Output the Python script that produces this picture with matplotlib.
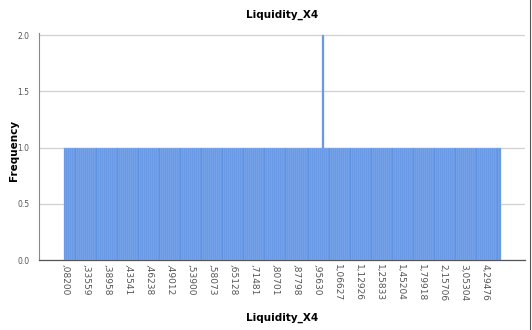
import matplotlib
matplotlib.use("Agg")
import matplotlib.pyplot as plt
from matplotlib.lines import Line2D

# Tick labels shown (every 10th category)
tick_labels = [",08200", ",33559", ",38958", ",43541", ",46238", ",49012", ",53900",
               ",58073", ",65128", ",71481", ",80701", ",87798", ",95630", "1,06627",
               "1,12926", "1,25833", "1,45204", "1,79918", "2,15706", "3,05304", "4,29476"]
tick_step = 10
# Frequency of each distinct value (208 categories, one value occurs twice)
frequency = [1] * 123 + [2] + [1] * 84

fig = plt.figure(figsize=(5.32, 3.30), dpi=100)
ax = fig.add_axes([0.0733, 0.2121, 0.9135, 0.6886])

x = list(range(len(frequency)))
ax.bar(x, frequency, width=1.0, color="#5d91e2", edgecolor="#9dbff2", linewidth=0.3, zorder=2)

ax.set_xlim(-12.4, 219.1)
ax.set_ylim(0, 2.02)
ax.set_yticks([0.0, 0.5, 1.0, 1.5, 2.0])
ax.set_yticklabels(["0.0", "0.5", "1.0", "1.5", "2.0"])
ax.yaxis.grid(True, color="#d0d0d0", linewidth=0.9, zorder=0)
ax.set_axisbelow(True)

ax.set_xticks([i * tick_step for i in range(len(tick_labels))])
ax.set_xticklabels(tick_labels, rotation=-90, fontsize=6.5, color="#555555")
ax.tick_params(axis="y", labelsize=5.5, colors="#555555", length=0, pad=7)
ax.tick_params(axis="x", length=0, pad=3)

for s in ["top", "right"]:
    ax.spines[s].set_visible(False)
ax.spines["left"].set_color("#888888")
ax.spines["left"].set_linewidth(0.8)
ax.spines["bottom"].set_color("#555555")
ax.spines["bottom"].set_linewidth(0.9)

ax.set_title("Liquidity_X4", fontsize=7.5, fontweight="bold", pad=11)
fig.text(0.026, 0.545, "Frequency", rotation=90, fontsize=7.5, fontweight="bold",
         ha="center", va="center")
fig.text(0.53, 0.037, "Liquidity_X4", fontsize=7.5, fontweight="bold", ha="center", va="center")

fig.add_artist(Line2D([0.996, 0.996], [0, 1], transform=fig.transFigure, color="#555555", linewidth=0.8))

fig.savefig("out.png", dpi=100)
